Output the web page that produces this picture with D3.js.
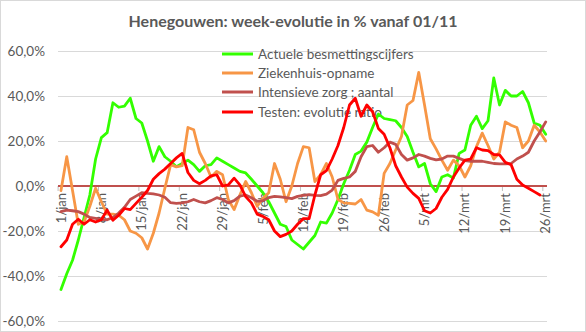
<!DOCTYPE html>
<html><head><meta charset="utf-8">
<script src="https://cdn.jsdelivr.net/npm/d3@7"></script>
<style>
html,body{margin:0;padding:0;background:#fff;}
svg text{font-family:Lato,"Open Sans",sans-serif;fill:#595959;}
</style></head>
<body><svg id="c" width="586" height="332"></svg>
<script>
const title = "Henegouwen: week-evolutie in % vanaf 01/11";
const seriesNames = ["Actuele besmettingscijfers","Ziekenhuis-opname","Intensieve zorg ; aantal","Testen: evolutie ratio"];
const seriesColors = ["#33ff00","#f79646","#c0504d","#ff0000"];
const monthNames = ["jan","feb","mrt"];
const categories = d3.range(85).map(i => {
  const d = d3.timeDay.offset(new Date(2021,0,1), i);
  return d.getDate() + "/" + monthNames[d.getMonth()];
});
const tickLabels = ["1/jan","8/jan","15/jan","22/jan","29/jan","5/feb","12/feb","19/feb","26/feb","5/mrt","12/mrt","19/mrt","26/mrt"];
const yTicks = [-60,-40,-20,0,20,40,60];

const actuele = [-46,-39,-33,-24,-14,-4,12,21.5,23.7,37,
 35,35.5,39,30,28,20,11,17.5,13,11,
 8.6,10,11.5,9.5,6.5,9,9.5,12.5,11,9.5,
 8,6.5,5.8,3,0,-3,-7,-12,-17,-18,
 -24,-26,-28,-25,-22,-16,-16.5,-12,-6,1,
 7,14,15.5,19.5,26,32,30,29.5,29,26,
 22,15,8.5,10,1,-2.5,4,5,3.5,14.5,
 16,27,31,25.5,29,48,36,42.5,40,40,
 42,37,28,27,23];
const ziekenhuis = [-2,13,-2,-17,-16,-9,-1,-7,-12.5,-12.5,
 -13,-15,-20,-21,-23,-28,-21,-12,-1,9.5,
 8.5,9,26,25,15,10,4,6.5,5,-6,
 -10.5,-4,2,-3,-9,-5.5,-3,10,3,-7,
 0,10,17.5,17,2,5,10,4,-6,-7.5,
 -7.7,-8,-6,-10.7,-11.5,-13,5.6,10,16,22,
 36,38,50.5,36,21,16.5,11.5,7,11.5,9,
 4,9,17.5,23.5,18,12,15,28.5,27,26,
 17,20,27,24,20];
const intensieve = [-11.4,-10.7,-11,-11.4,-12.5,-14,-14.4,-14.8,-15,-14,
 -12,-9.5,-6,-4.5,-3,-3.3,-3.5,-4,-5,-7.4,
 -7.7,-7.5,-7,-6,-7,-7.5,-6.5,-5.2,-6,-7.5,
 -6.5,-4.5,-4,-5.2,-6.8,-6.5,-5.2,-4.6,-4.8,-5.2,
 -5.6,-4.6,-4.2,-3.8,-4.2,-4.3,-3.6,-1.8,2.5,3.4,
 4,6.5,13,17.5,18,15,17,19.5,18.5,14,
 11.5,12.5,14,13.3,12.3,11.6,12,13.3,13.3,12.3,
 11.3,11,11,11,10.5,10,9.8,9.8,10,12,
 13.3,15,20,24,28.5];
const testen = [-27,-24,-17,-14.8,-17,-15,-16,-15,-10.7,-15.2,
 -13,-10,-10.5,-7.7,-5,-2,3,5.5,7.5,10,
 12.5,14.5,6,2.5,1,2.5,4.5,5,0,0.5,
 3.5,0.5,-4.7,-7.5,-12.5,-13.5,-15,-20,-22.5,-21.5,
 -20,-17,-14.5,-14.5,-4,
 5,6.8,12,18,26,36,39,31,36,33,25.6,23,17,9,4,-0.5,-3.3,-5.5,
 -11,-12,-10,-5,-1.5,4,8,11.5,12,17,16,15.7,14,13.8,10.5,9.5,3,0.4,-1,-2.5,-4,null];
const seriesValues = [actuele, ziekenhuis, intensieve, testen];

const svg = d3.select("#c");
const W = 586, H = 332;
const plotL = 58, plotR = 547, plotT = 51, plotB = 321;

svg.append("rect").attr("x",0.5).attr("y",0.5).attr("width",W-1).attr("height",H-1)
  .attr("fill","#fff").attr("stroke","#d9d9d9");

const x = d3.scaleBand().domain(categories).range([58.1, 548.6]);
const y = d3.scaleLinear().domain([-60,60]).range([plotB, plotT]);
const cx = c => x(c) + x.bandwidth()/2;

const loc = d3.formatLocale({decimal:",",thousands:".",grouping:[3],currency:["€",""],minus:"-"});
const fmt = loc.format(".1f");

// gridlines
svg.append("g").selectAll("line").data(yTicks.filter(v => v !== 0)).join("line")
  .attr("x1",plotL).attr("x2",plotR).attr("y1",d=>y(d)+0.5).attr("y2",d=>y(d)+0.5)
  .attr("stroke","#d9d9d9").attr("stroke-width",1);

// y axis labels
const ya = svg.append("g").attr("transform",`translate(${plotL},0)`)
  .call(d3.axisLeft(y).tickValues(yTicks).tickSize(0).tickPadding(13).tickFormat(d => fmt(d) + "%"));
ya.select(".domain").remove();
ya.selectAll("text").style("font-size","13.5px").style("font-family","Lato").attr("fill","#595959");

// x axis at zero
const xa = svg.append("g").attr("transform",`translate(0,${y(0)})`)
  .call(d3.axisBottom(x).tickValues(tickLabels).tickSizeInner(5).tickSizeOuter(0));
xa.select(".domain").remove();
xa.selectAll(".tick line").attr("x1",-x.bandwidth()/2).attr("x2",-x.bandwidth()/2).attr("stroke","#bfbfbf");
xa.selectAll(".tick text").attr("transform","rotate(-90)").attr("text-anchor","end")
  .attr("x",-7).attr("y",0).attr("dy","0.35em").style("font-size","13px").style("font-family","Lato").attr("fill","#595959");

// zero line
svg.append("line").attr("x1",plotL).attr("x2",plotR).attr("y1",y(0)).attr("y2",y(0))
  .attr("stroke","#c0504d").attr("stroke-width",2);

// legend
const lg = svg.append("g");
const legY = [54,73,92,112];
seriesNames.forEach((n,i) => {
  lg.append("line").attr("x1",222).attr("x2",253).attr("y1",legY[i]).attr("y2",legY[i])
    .attr("stroke",seriesColors[i]).attr("stroke-width",3);
  lg.append("text").attr("x",258).attr("y",legY[i]).attr("dy","0.35em")
    .style("font-size","13.5px").text(n);
});

// series
const line = d3.line().defined(d => d.v != null).x(d => cx(d.c)).y(d => y(d.v));
seriesValues.forEach((vals,i) => {
  svg.append("path").datum(vals.map((v,j) => ({c: categories[j], v})))
    .attr("fill","none").attr("stroke",seriesColors[i]).attr("stroke-width",2.8)
    .attr("stroke-linejoin","round").attr("stroke-linecap","round").attr("d",line);
});

// title
svg.append("text").attr("x",293).attr("y",21).attr("text-anchor","middle").attr("dy","0.35em")
  .style("font-size","16px").style("font-weight","bold").text(title);
</script></body></html>
